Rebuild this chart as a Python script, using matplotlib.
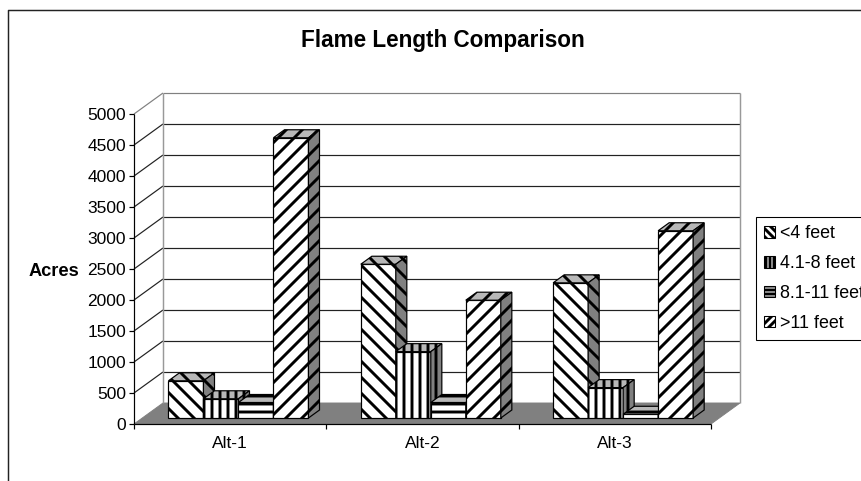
import matplotlib
matplotlib.use("Agg")
import matplotlib.pyplot as plt
from matplotlib.patches import Polygon, Patch
from matplotlib.lines import Line2D

categories = ["Alt-1", "Alt-2", "Alt-3"]
series = ["<4 feet", "4.1-8 feet", "8.1-11 feet", ">11 feet"]
under4 = [600, 2480, 2180]
to8 = [310, 1070, 490]
to11 = [250, 250, 60]
over11 = [4520, 1900, 3020]
yticks = list(range(0, 5001, 500))

values = [under4, to8, to11, over11]
hatches = ["\\\\", "||", "--", "//"]

W, H = 861, 481
DPI = 96  # agg hatch spacing follows the dpi, this one gives the right stripes
plt.rcParams["font.family"] = ["Liberation Sans", "DejaVu Sans"]
plt.rcParams["hatch.linewidth"] = 2.2

fig = plt.figure(figsize=(W / DPI, H / DPI), dpi=DPI)
# front plane of the 3d box, in pixels
x0, x1, y0, y1 = 134, 711, 424, 114
ax = fig.add_axes([x0 / W, 1 - y0 / H, (x1 - x0) / W, (y0 - y1) / H])
ax.set_xlim(0, 3)
ax.set_ylim(0, 5000)
ax.axis("off")

# depth of the box, converted to data units
dx = 29 / (x1 - x0) * 3
dv = 21 / (y0 - y1) * 5000


def proj(x, v, z):
	return (x + dx * z, v + dv * z)


def add_poly(pts, **kw):
	ax.add_patch(Polygon(pts, closed=True, clip_on=False, **kw))


def add_line(pts, color, lw=0.9, zorder=1):
	ax.plot([p[0] for p in pts], [p[1] for p in pts], color=color, lw=lw,
		clip_on=False, solid_capstyle="butt", zorder=zorder)


# floor
add_poly([proj(0, 0, 0), proj(3, 0, 0), proj(3, 0, 1), proj(0, 0, 1)],
	facecolor="#808080", edgecolor="#808080", lw=0.7, zorder=1)

# walls and gridlines
for v in yticks:
	c = "#808080" if v == 5000 else "#222222"
	if v > 0:
		add_line([proj(0, v, 1), proj(3, v, 1)], c)
		add_line([proj(0, v, 0), proj(0, v, 1)], c)
add_line([proj(0, 0, 1), proj(0, 5000, 1)], "#999999", 1.1)
add_line([proj(3, 0, 1), proj(3, 5000, 1)], "#999999", 1.1)

# axes
add_line([(0, 0), (0, 5000)], "black", 0.9, 2)
add_line([(0, 0), (3, 0)], "black", 0.9, 2)
tick_x = 5 / (x1 - x0) * 3
tick_v = 5 / (y0 - y1) * 5000
label_drop = 1.5 / (y0 - y1) * 5000
for v in yticks:
	add_line([(0, v), (-tick_x, v)], "black", 0.9, 2)
	ax.text(-8 / (x1 - x0) * 3, v - label_drop, str(v), ha="right", va="center", fontsize=13)
for i in range(4):
	add_line([(i, 0), (i, -tick_v)], "black", 0.9, 2)
for i, name in enumerate(categories):
	ax.text(i + 0.5, -19 / (y0 - y1) * 5000, name, ha="center", va="center", fontsize=13)

# bars
bw = 35 / ((x1 - x0) / 3)
z0, z1 = 6 / 21, 14 / 21
for i in range(len(categories)):
	for s in range(len(series)):
		left = i + 0.5 - 2 * bw + s * bw
		right = left + bw
		v = values[s][i]
		style = dict(edgecolor="black", lw=0.9, hatch=hatches[s], zorder=3 + i + s * 0.1)
		add_poly([proj(left, 0, z0), proj(right, 0, z0), proj(right, v, z0), proj(left, v, z0)],
			facecolor="white", **style)
		add_poly([proj(left, v, z0), proj(right, v, z0), proj(right, v, z1), proj(left, v, z1)],
			facecolor="#b8b8b8", **style)
		add_poly([proj(right, 0, z0), proj(right, 0, z1), proj(right, v, z1), proj(right, v, z0)],
			facecolor="#808080", **style)

fig.text(443 / W, 1 - 40 / H, "Flame Length Comparison", ha="center", va="center",
	fontsize=16.9, fontweight="bold")
fig.text(29 / W, 1 - 271 / H, "Acres", ha="left", va="center", fontsize=13.7, fontweight="bold")

# chart frame, cut off by the image on the right and at the bottom
fig.add_artist(Line2D([8 / W, 8 / W, 1], [0, 1 - 10 / H, 1 - 10 / H], color="#222222", lw=1.1))

handles = [Patch(facecolor="white", edgecolor="black", hatch=h, lw=0.8) for h in ["\\\\\\\\", "||||", "----", "////"]]
leg = fig.legend(handles, series, loc="upper left", bbox_to_anchor=(756 / W, 1 - 217 / H),
	borderaxespad=0, fontsize=13.4, handlelength=0.62, handleheight=0.62, handletextpad=0.27,
	labelspacing=0.72, borderpad=0.46, fancybox=False, framealpha=1, edgecolor="black")
leg.get_frame().set_linewidth(0.8)

fig.savefig("out.png", dpi=DPI)
